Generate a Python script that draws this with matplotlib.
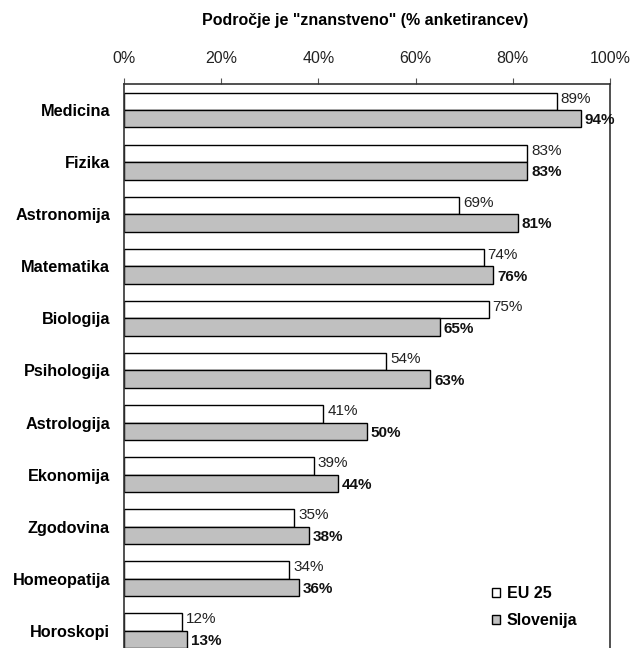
import matplotlib
matplotlib.use("Agg")
import matplotlib.pyplot as plt
import numpy as np

categories = ["Medicina", "Fizika", "Astronomija", "Matematika", "Biologija",
              "Psihologija", "Astrologija", "Ekonomija", "Zgodovina",
              "Homeopatija", "Horoskopi"]
eu25 = [89, 83, 69, 74, 75, 54, 41, 39, 35, 34, 12]
slovenija = [94, 83, 81, 76, 65, 63, 50, 44, 38, 36, 13]
xticks = [0, 20, 40, 60, 80, 100]
xticklabels = ["0%", "20%", "40%", "60%", "80%", "100%"]

plt.rcParams['font.family'] = ['Liberation Sans', 'DejaVu Sans']

fig = plt.figure(figsize=(6.32, 6.48), dpi=100)
W, H = 632, 648
ax = fig.add_axes([124 / W, 0, (610 - 124) / W, (H - 84) / H])

y = np.arange(len(categories))
bh = 0.335
ax.barh(y - bh / 2, eu25, height=bh, color="white", edgecolor="black",
        linewidth=1.0, label="EU 25")
ax.barh(y + bh / 2, slovenija, height=bh, color="#c0c0c0", edgecolor="black",
        linewidth=1.0, label="Slovenija")

for i, (a, b) in enumerate(zip(eu25, slovenija)):
    ax.text(a + 0.8, i - bh / 2 - 0.05, f"{a}%", va="center", ha="left",
            fontsize=11, color="#222222")
    ax.text(b + 0.8, i + bh / 2 + 0.03, f"{b}%", va="center", ha="left",
            fontsize=11, fontweight="bold", color="#111111")

ax.set_xlim(0, 100)
ax.set_ylim(10.33, -0.5)
ax.set_yticks(y)
ax.set_yticklabels(categories, fontsize=11.7, fontweight="bold")
ax.tick_params(axis="y", length=0, pad=10)
ax.xaxis.tick_top()
ax.set_xticks(xticks)
ax.set_xticklabels(xticklabels, fontsize=11.5, color="#222222")
ax.tick_params(axis="x", direction="out", length=4, width=0.8, pad=9,
               color="#555555")
ax.spines["bottom"].set_visible(False)
for s in ["top", "left", "right"]:
    ax.spines[s].set_linewidth(1.2)
    ax.spines[s].set_color("#333333")

fig.text(365 / W, 1 - 20 / H, 'Področje je "znanstveno" (% anketirancev)',
         ha="center", va="center", fontsize=11.5, fontweight="bold")

leg = ax.legend(loc="lower left", bbox_to_anchor=((478 - 124) / (610 - 124), 0.01),
                frameon=False, handlelength=0.5, handleheight=0.5,
                handletextpad=0.4, labelspacing=0.75,
                prop={"weight": "bold", "size": 11.5})

fig.savefig("out.png", dpi=100)
